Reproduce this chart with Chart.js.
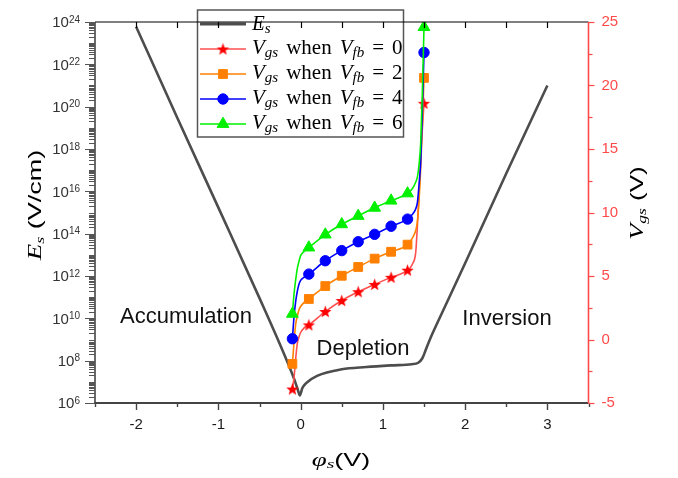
<!DOCTYPE html>
<html lang="en">
<head>
<meta charset="UTF-8">
<title>Es and Vgs versus surface potential</title>
<script src="https://cdn.jsdelivr.net/npm/chart.js"></script>
<style>
  html, body { margin: 0; padding: 0; background: #fff; }
  #wrap { width: 678px; height: 478px; }
</style>
</head>
<body>
<div id="wrap"><canvas id="chart" width="678" height="478"></canvas></div>
<script>
// surface field Es (V/cm) against surface potential phi_s (V)
const esPhi = [-2.0, -1.5, -1.0, -0.5, -0.2, -0.08, -0.04, -0.008, 0.005, 0.02, 0.04, 0.08,
               0.2, 0.5, 0.8, 1.1, 1.35, 1.43, 1.48, 1.53, 1.6, 1.7, 2.0, 2.5, 3.0];
const esVal = [6e23, 3e19, 1.7e15, 9e10, 2e8, 1.4e7, 5e6, 2.3e6, 3.2e6, 5e6, 6.6e6, 9.5e6,
               1.9e7, 3.9e7, 5e7, 6e7, 6.8e7, 8e7, 1.3e8, 4e8, 1.8e9, 1.26e10, 4e12, 7e16, 1e21];

// gate voltage Vgs (V) for four flat-band voltages, on one phi_s grid
const vgsPhi = [-0.1, -0.08, -0.06, -0.04, -0.02, 0, 0.04, 0.1, 0.3, 0.5, 0.7, 0.9, 1.1, 1.3,
                1.36, 1.4, 1.42, 1.44, 1.46, 1.48, 1.5];
const vgsFb0 = [-3.9, -3.0, -1.5, -0.3, 0.2, 0.55, 0.9, 1.15, 2.2, 3.07, 3.76, 4.34, 4.9, 5.46,
                5.95, 6.9, 9.0, 11.6, 14.3, 16.6, 18.6];
const vgsFb2 = [-1.92, -0.2, 1.2, 1.85, 2.35, 2.6, 2.9, 3.19, 4.21, 5.02, 5.71, 6.37, 6.91, 7.47,
                8.0, 8.6, 9.3, 11.0, 13.5, 17.0, 20.6];
const vgsFb4 = [0.06, 1.8, 3.0, 3.8, 4.35, 4.65, 4.9, 5.15, 6.2, 7.0, 7.7, 8.28, 8.92, 9.48,
                9.86, 10.3, 10.8, 12.2, 14.0, 18.0, 22.6];
const vgsFb6 = [2.02, 3.6, 4.7, 5.6, 6.15, 6.6, 6.92, 7.24, 8.26, 9.07, 9.73, 10.37, 10.93, 11.5,
                11.89, 12.4, 12.8, 13.8, 15.5, 19.5, 24.6];
// phi_s values that carry a marker
const markerPhi = [-0.1, 0.1, 0.3, 0.5, 0.7, 0.9, 1.1, 1.3, 1.5];

// axes
const xTicks = [-2, -1, 0, 1, 2, 3];
const xMinor = [-2.5, -1.5, -0.5, 0.5, 1.5, 2.5, 3.5];
const esTickExp = [6, 8, 10, 12, 14, 16, 18, 20, 22, 24];
const vgsTicks = [-5, 0, 5, 10, 15, 20, 25];
const vgsMinor = [-2.5, 2.5, 7.5, 12.5, 17.5, 22.5];
const fbLabels = ['0', '2', '4', '6'];

const SANS = '"Liberation Sans", Arial, sans-serif';
const SERIF = '"Liberation Serif", "Times New Roman", serif';
const RED = '#ff4a4a';

function makeStar(r, color) {
  const c = document.createElement('canvas');
  const s = Math.ceil(r * 2 + 2);
  c.width = c.height = s;
  const g = c.getContext('2d');
  g.fillStyle = color;
  g.beginPath();
  for (let i = 0; i < 10; i++) {
    const rad = i % 2 ? r * 0.42 : r;
    const a = -Math.PI / 2 + i * Math.PI / 5;
    g.lineTo(s / 2 + rad * Math.cos(a), s / 2 + rad * Math.sin(a) + 0.6);
  }
  g.closePath();
  g.fill();
  return c;
}
const star = makeStar(6.5, '#ff0000');

const series = [
  { vals: vgsFb0, line: '#ff5050', mark: '#ff0000', style: star, r: 6 },
  { vals: vgsFb2, line: '#ff8000', mark: '#ff8000', style: 'rect', r: 6.2 },
  { vals: vgsFb4, line: '#0000ff', mark: '#0000ff', style: 'circle', r: 5.2 },
  { vals: vgsFb6, line: '#00f000', mark: '#00f000', style: 'triangle', r: 6.8 }
];

const datasets = [{
  label: 'Es',
  data: esPhi.map((x, i) => ({ x: x, y: esVal[i] })),
  yAxisID: 'y',
  borderColor: '#4d4d4d',
  borderWidth: 2.6,
  pointRadius: 0,
  cubicInterpolationMode: 'monotone',
  order: 10
}];
series.forEach((s, k) => {
  datasets.push({
    label: 'Vgs when Vfb = ' + fbLabels[k],
    data: vgsPhi.map((x, i) => ({ x: x, y: s.vals[i] })),
    yAxisID: 'y1',
    borderColor: s.line,
    borderWidth: 1.6,
    cubicInterpolationMode: 'monotone',
    pointStyle: s.style,
    pointBackgroundColor: s.mark,
    pointBorderColor: s.mark,
    pointBorderWidth: 1,
    pointRadius: c => (c.raw && markerPhi.includes(c.raw.x)) ? s.r : 0,
    order: 4 - k
  });
});

// draw a run of text pieces: [text, font, dy] or a number for a gap
function richWidth(ctx, parts) {
  let w = 0;
  for (const p of parts) {
    if (typeof p === 'number') { w += p; continue; }
    ctx.font = p[1];
    w += ctx.measureText(p[0]).width;
  }
  return w;
}
function drawRich(ctx, parts, x, y) {
  for (const p of parts) {
    if (typeof p === 'number') { x += p; continue; }
    ctx.font = p[1];
    ctx.fillText(p[0], x, y + (p[2] || 0));
    x += ctx.measureText(p[0]).width;
  }
}
function drawTitle(ctx, parts, cx, cy, rot, stretch, base) {
  ctx.save();
  ctx.translate(cx, cy);
  ctx.rotate(rot);
  ctx.scale(stretch, 1);
  const w = richWidth(ctx, parts);
  drawRich(ctx, parts, -w / 2, base);
  ctx.restore();
}

const decor = {
  id: 'decor',
  afterDraw(chart) {
    const { ctx, chartArea: a, scales } = chart;
    const sx = scales.x, sy = scales.y, sr = scales.y1;
    ctx.save();
    ctx.textAlign = 'left';
    ctx.textBaseline = 'alphabetic';

    // legend
    const lx = 197.5, ly = 10, lw = 206, lh = 127;
    ctx.fillStyle = '#fff';
    ctx.fillRect(lx, ly, lw, lh);
    ctx.strokeStyle = '#555';
    ctx.lineWidth = 1.5;
    ctx.strokeRect(lx, ly, lw, lh);
    const rows = [24, 49, 74, 99, 124];
    ctx.lineCap = 'butt';
    ctx.strokeStyle = '#4d4d4d';
    ctx.lineWidth = 2.8;
    ctx.beginPath(); ctx.moveTo(200, rows[0]); ctx.lineTo(246, rows[0]); ctx.stroke();
    ctx.fillStyle = '#000';
    drawRich(ctx, [['E', 'italic 21px ' + SERIF], ['s', 'italic 15px ' + SERIF, 3]], 252, rows[0] + 6);
    series.forEach((s, k) => {
      const y = rows[k + 1];
      ctx.strokeStyle = s.line;
      ctx.lineWidth = 1.6;
      ctx.beginPath(); ctx.moveTo(200, y); ctx.lineTo(246, y); ctx.stroke();
      ctx.fillStyle = s.mark;
      ctx.strokeStyle = s.mark;
      ctx.lineWidth = 1;
      Chart.helpers.drawPoint(ctx, { pointStyle: s.style, radius: s.r, rotation: 0, borderWidth: 1 }, 223, y);
      ctx.fillStyle = '#000';
      drawRich(ctx, [
        ['V', 'italic 21px ' + SERIF], ['gs', 'italic 15px ' + SERIF, 3], 8,
        ['when', '21px ' + SERIF], 8,
        ['V', 'italic 21px ' + SERIF], ['fb', 'italic 15px ' + SERIF, 3], 8,
        ['=', '21px ' + SERIF], 8, [fbLabels[k], '21px ' + SERIF]
      ], 252, y + 5);
    });

    // frame
    ctx.lineCap = 'butt';
    ctx.strokeStyle = '#000';
    ctx.lineWidth = 1;
    ctx.beginPath(); ctx.moveTo(a.left, a.top); ctx.lineTo(a.right, a.top); ctx.stroke();
    ctx.strokeStyle = '#444';
    ctx.lineWidth = 1.6;
    ctx.beginPath(); ctx.moveTo(a.left, a.top); ctx.lineTo(a.left, a.bottom); ctx.stroke();
    ctx.lineWidth = 2;
    ctx.beginPath(); ctx.moveTo(a.left - 1, a.bottom); ctx.lineTo(a.right, a.bottom); ctx.stroke();
    ctx.strokeStyle = RED;
    ctx.lineWidth = 1.6;
    ctx.beginPath(); ctx.moveTo(a.right, a.top); ctx.lineTo(a.right, a.bottom); ctx.stroke();

    // x ticks: bottom outward, top inward
    ctx.strokeStyle = '#444';
    ctx.lineWidth = 1.4;
    const xAll = xTicks.map(v => [v, 7]).concat(xMinor.map(v => [v, 4]));
    for (const [v, len] of xAll) {
      const px = Math.round(sx.getPixelForValue(v)) + 0.5;
      ctx.beginPath(); ctx.moveTo(px, a.bottom); ctx.lineTo(px, a.bottom + len); ctx.stroke();
    }
    ctx.strokeStyle = '#000';
    ctx.lineWidth = 1.2;
    for (const [v] of xAll) {
      if (v <= -2.5 || v >= 3.5) continue;
      const px = Math.round(sx.getPixelForValue(v)) + 0.5;
      ctx.beginPath(); ctx.moveTo(px, a.top); ctx.lineTo(px, a.top + 6); ctx.stroke();
    }

    // left log ticks
    ctx.strokeStyle = '#555';
    ctx.lineWidth = 1;
    for (let e = 6; e <= 24; e++) {
      for (let m = 1; m <= 9; m++) {
        if (e === 24 && m > 1) break;
        const py = Math.round(sy.getPixelForValue(m * Math.pow(10, e))) + 0.5;
        const major = m === 1 && esTickExp.includes(e);
        ctx.beginPath(); ctx.moveTo(a.left, py); ctx.lineTo(a.left - (major ? 10 : 6), py); ctx.stroke();
      }
    }
    // left labels 10^n
    ctx.fillStyle = '#333';
    ctx.textAlign = 'right';
    for (const e of esTickExp) {
      const py = sy.getPixelForValue(Math.pow(10, e));
      ctx.font = '10px ' + SANS;
      const ew = ctx.measureText(String(e)).width;
      ctx.fillText(String(e), 80, py + 0.5);
      ctx.font = '15px ' + SANS;
      ctx.fillText('10', 80 - ew, py + 5.4);
    }

    // right ticks
    ctx.strokeStyle = RED;
    ctx.lineWidth = 1.2;
    const rAll = vgsTicks.map(v => [v, 6]).concat(vgsMinor.map(v => [v, 4]));
    for (const [v, len] of rAll) {
      const py = Math.round(sr.getPixelForValue(v)) + 0.5;
      ctx.beginPath(); ctx.moveTo(a.right, py); ctx.lineTo(a.right + len, py); ctx.stroke();
    }

    // region annotations
    ctx.fillStyle = '#111';
    ctx.textAlign = 'center';
    ctx.font = '22px ' + SANS;
    ctx.fillText('Accumulation', 186, 323);
    ctx.fillText('Depletion', 363, 355);
    ctx.fillText('Inversion', 507, 325);

    // axis titles
    ctx.textAlign = 'left';
    ctx.fillStyle = '#000';
    drawTitle(ctx, [['E', 'italic 18px ' + SERIF], ['s', 'italic 12px ' + SERIF, 3], 5,
                    ['(V/cm)', '18px ' + SANS]], 35, 205, -Math.PI / 2, 1.5, 6);
    drawTitle(ctx, [['V', 'italic 18px ' + SERIF], ['gs', 'italic 12px ' + SERIF, 3], 5,
                    ['(V)', '18px ' + SANS]], 637, 203, -Math.PI / 2, 1.45, 6);
    drawTitle(ctx, [['\u03c6', 'italic 18px ' + SERIF], ['s', 'italic 13px ' + SERIF, 2],
                    ['(V)', '18px ' + SANS]], 341, 466, 0, 1.5, 0);
    ctx.restore();
  }
};

new Chart(document.getElementById('chart'), {
  type: 'line',
  data: { datasets: datasets },
  options: {
    responsive: false,
    animation: false,
    layout: { padding: { top: 10, left: 0, right: 0, bottom: 0 } },
    plugins: { legend: { display: false }, tooltip: { enabled: false } },
    scales: {
      x: {
        type: 'linear', min: -2.5, max: 3.5,
        grid: { display: false, drawTicks: false }, border: { display: false },
        afterBuildTicks: s => { s.ticks = xTicks.map(v => ({ value: v })); },
        afterFit: s => { s.height = 75; },
        ticks: { padding: 13, color: '#1a1a1a', font: { family: SANS, size: 15 } }
      },
      y: {
        type: 'logarithmic', position: 'left', min: 1e6, max: 1e24,
        grid: { display: false, drawTicks: false }, border: { display: false },
        ticks: { display: false },
        afterFit: s => { s.width = 95; }
      },
      y1: {
        type: 'linear', position: 'right', min: -5, max: 25,
        grid: { display: false, drawTicks: false }, border: { display: false },
        afterBuildTicks: s => { s.ticks = vgsTicks.map(v => ({ value: v })); },
        afterFit: s => { s.width = 89.5; },
        ticks: { padding: 13, color: RED, font: { family: SANS, size: 15 } }
      }
    }
  },
  plugins: [decor]
});
</script>
</body>
</html>
